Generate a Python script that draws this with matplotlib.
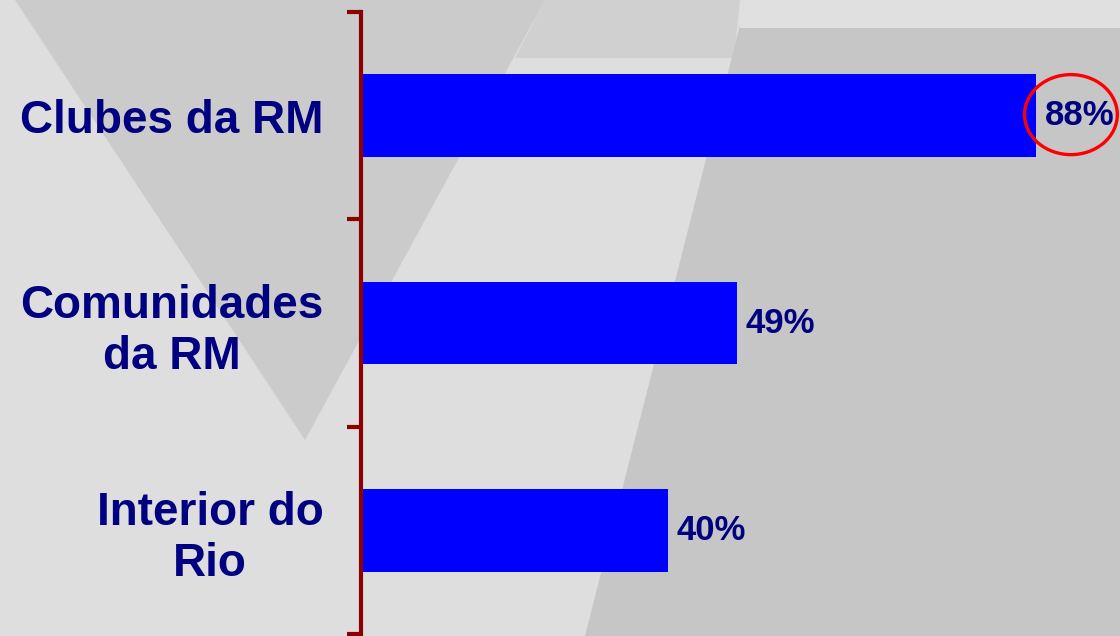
import matplotlib.pyplot as plt
from matplotlib.patches import Polygon, Ellipse

plt.rcParams['font.family'] = ['Liberation Sans', 'DejaVu Sans']

# data
categories = ["Clubes da RM", "Comunidades\nda RM", "Interior do\nRio"]
values = [88, 49, 40]
value_labels = ["88%", "49%", "40%"]
highlight = 0  # index of the circled value

fig = plt.figure(figsize=(11.2, 6.36), dpi=100)
fig.patch.set_facecolor("#dedede")

# background shapes (slide template), in pixel coords
bg = fig.add_axes([0, 0, 1, 1], zorder=0)
bg.set_xlim(0, 1120)
bg.set_ylim(636, 0)
bg.axis("off")
bg.add_patch(Polygon([(545, 0), (740, 0), (734, 58), (515, 58)], closed=True,
                     fc="#d0d0d0", ec="none"))
bg.add_patch(Polygon([(740, 25), (1120, 25), (1120, 636), (585, 636)], closed=True,
                     fc="#c6c6c6", ec="none"))
bg.add_patch(Polygon([(740, 0), (1120, 0), (1120, 28), (740, 28)], closed=True,
                     fc="#e0e0e0", ec="none"))
bg.add_patch(Polygon([(15, 0), (545, 0), (305, 440)], closed=True,
                     fc="#cbcbcb", ec="none"))

# chart
ax = fig.add_axes([361 / 1120, 2 / 636, 759 / 1120, 622 / 636], zorder=1)
ax.patch.set_alpha(0)
ypos = list(range(len(categories)))
ax.barh(ypos, values, height=0.4, color="#0000ff")
ax.set_xlim(0, 99)
ax.set_ylim(2.5, -0.5)

for y, v, lab in zip(ypos, values, value_labels):
    ax.text(v + 1.2, y, lab, va="center", ha="left", fontsize=25,
            fontweight="bold", color="#000080")

ax.add_patch(Ellipse((values[highlight] + 4.6, highlight - 0.005), 12.1, 0.386,
                     fill=False, ec="#ff0000", lw=2.4, clip_on=False))

for s in ["top", "right", "bottom"]:
    ax.spines[s].set_visible(False)
ax.spines["left"].set_color("#8b0000")
ax.spines["left"].set_linewidth(3)
ax.set_xticks([])

ax.set_yticks([-0.5, 0.5, 1.5, 2.5])
ax.set_yticklabels([])
ax.tick_params(axis="y", which="major", length=10, width=3, color="#8b0000",
               direction="out")
ax.set_yticks(ypos, minor=True)
ax.set_yticklabels(categories, minor=True, fontsize=33, fontweight="bold",
                   color="#000080", multialignment="center")
ax.tick_params(axis="y", which="minor", length=0, pad=27)

fig.savefig("out.png", dpi=100, facecolor=fig.get_facecolor())
